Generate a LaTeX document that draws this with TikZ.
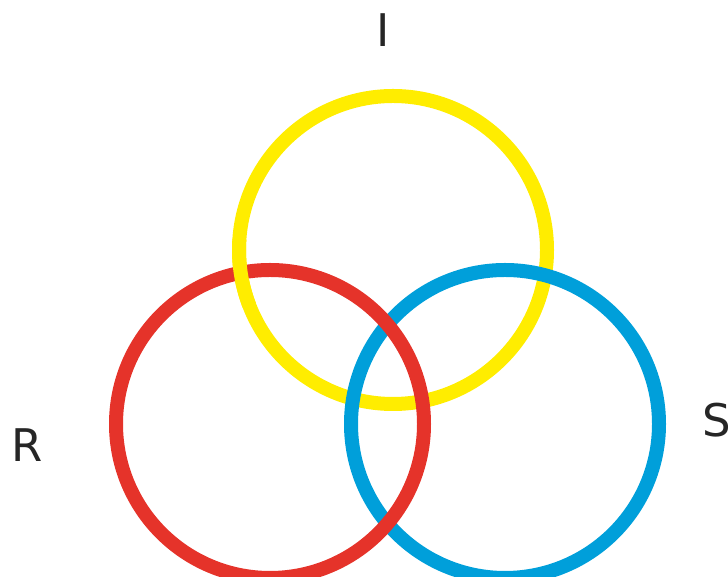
\documentclass[tikz,border=0pt]{standalone}
\usepackage{fontspec}
\setmainfont{DejaVu Sans}
\definecolor{ringyellow}{HTML}{FFED00}
\definecolor{ringred}{HTML}{E5332A}
\definecolor{ringblue}{HTML}{009FDA}

\begin{document}
\begin{tikzpicture}[
  x=1pt,y=1pt,
  ring/.style={line width=14pt},
  lab/.style={font=\fontsize{45}{50}\selectfont,inner sep=0pt,text=black!85}
]
\useasboundingbox (0,0) rectangle (728,577);

% ---------- centres ----------
\coordinate (ycen) at (393,327);
\coordinate (rcen) at (270,153);
\coordinate (bcen) at (505,153);

% ---------- rings (yellow under blue under red) ----------
\draw[ring,ringyellow] (ycen) circle[radius=154];
\draw[ring,ringblue] (bcen) circle[radius=154];
\draw[ring,ringred] (rcen) circle[radius=154];
% yellow passes over red at the upper left crossing
\draw[ring,ringyellow] (ycen) ++(176:154) arc[start angle=176, end angle=201, radius=154];

% ---------- labels ----------
\node[lab] (li) at (383,547) {I};
\node[lab] (lr) at (27,132) {R};
\node[lab] (ls) at (717,157) {S};

\end{tikzpicture}
\end{document}
